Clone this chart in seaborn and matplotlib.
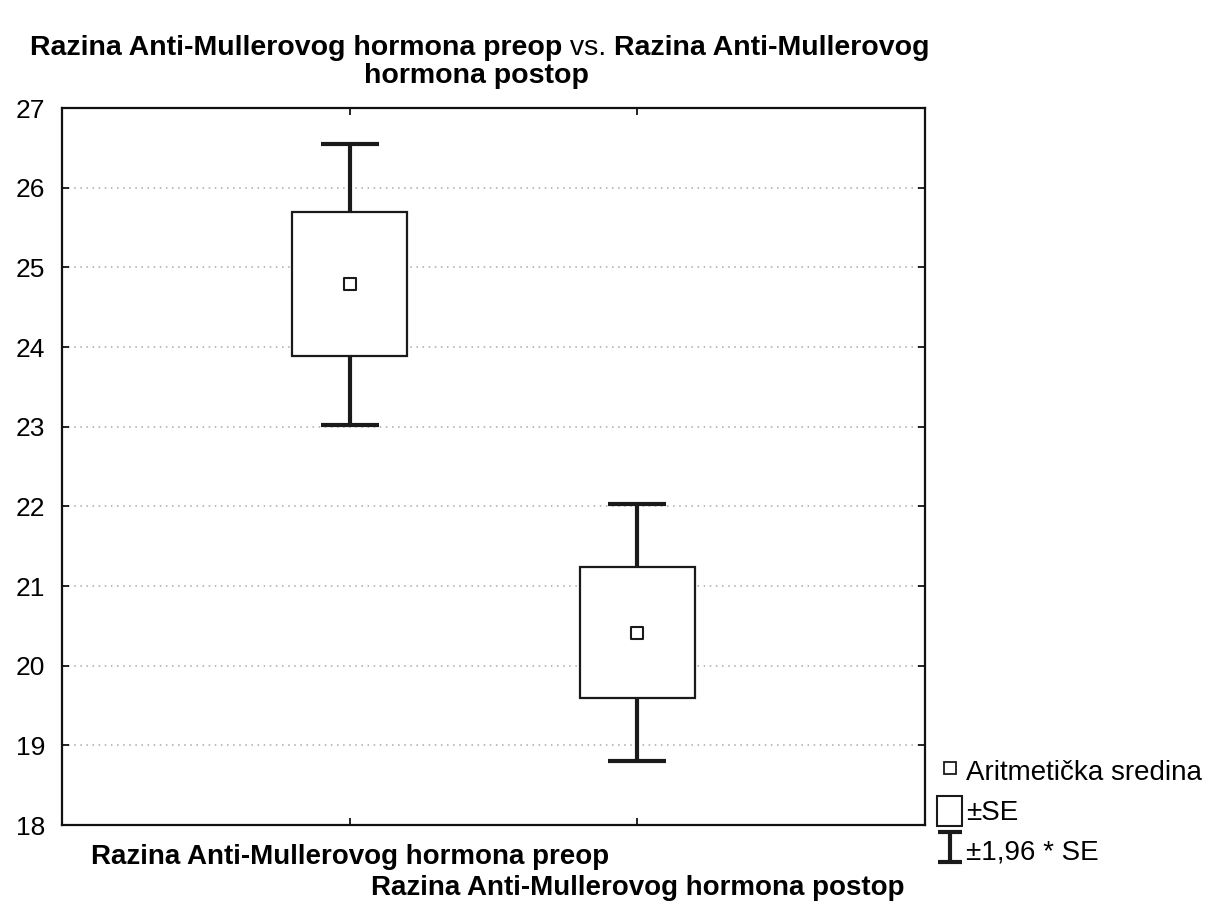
import matplotlib
matplotlib.use('Agg')
import matplotlib.pyplot as plt
import seaborn as sns
import numpy as np
from matplotlib.lines import Line2D
from matplotlib.patches import Patch
from matplotlib.path import Path

# data
groups = ['Razina Anti-Mullerovog hormona preop', 'Razina Anti-Mullerovog hormona postop']
means = [24.79, 20.415]
se = [0.90, 0.825]
yticks = [18, 19, 20, 21, 22, 23, 24, 25, 26, 27]

sns.set_style('white')
plt.rcParams['font.family'] = ['Liberation Sans', 'DejaVu Sans']
plt.rcParams['text.color'] = 'black'

pos = np.arange(1, len(groups) + 1)
means = np.array(means)
se = np.array(se)

fig = plt.figure(figsize=(12.14, 9.06), dpi=100)
W, H = 1214, 906
ax = fig.add_axes([62 / W, 1 - 825 / H, 863 / W, 717 / H])

# whiskers: +-1.96 * SE
ax.errorbar(pos, means, yerr=1.96 * se, fmt='none', ecolor='#1a1a1a',
            elinewidth=3, capsize=21, capthick=3, zorder=2)
# box: +-SE
ax.bar(pos, 2 * se, bottom=means - se, width=0.4, color='white',
       edgecolor='#1a1a1a', linewidth=1.6, zorder=3)
# mean
sns.scatterplot(x=pos, y=means, marker='s', s=80, color='white',
                edgecolor='#1a1a1a', linewidth=1.5, zorder=4, ax=ax)

ax.set_xlim(0, 3)
ax.set_ylim(18, 27)
ax.set_yticks(yticks)
# staggered category labels: first on a major tick, second on a minor tick
ax.set_xticks(pos[:1], labels=groups[:1], fontsize=20, fontweight='bold')
ax.set_xticks(pos[1:], labels=groups[1:], minor=True, fontsize=20,
              fontweight='bold')
ax.tick_params(axis='y', labelsize=19, direction='in', left=True, right=True,
               length=5, width=1.2, pad=12, colors='black')
ax.tick_params(axis='x', which='both', direction='in', top=True, bottom=True,
               length=5, width=1.2, colors='black')
ax.tick_params(axis='x', which='major', pad=14)
ax.tick_params(axis='x', which='minor', pad=36)
ax.yaxis.grid(True, linestyle=(0, (1, 3)), color='#a8a8a8', linewidth=1.1)
ax.xaxis.grid(False, which='both')
for sp in ax.spines.values():
    sp.set_color('#111111')
    sp.set_linewidth(1.6)

# title, mixed weight on the first line
ty = 1 - 55 / H
t1 = fig.text(30 / W, ty, 'Razina Anti-Mullerovog hormona preop',
              fontsize=20.5, fontweight='bold', va='baseline', ha='left')
t2 = fig.text(0, 0, ' vs. ', fontsize=20.5, va='baseline', ha='left')
t3 = fig.text(0, 0, 'Razina Anti-Mullerovog', fontsize=20.5,
              fontweight='bold', va='baseline', ha='left')
fig.canvas.draw()
r = fig.canvas.get_renderer()
b1 = t1.get_window_extent(r)
t2.set_position((b1.x1 / W, ty))
b2 = t2.get_window_extent(r)
t3.set_position((b2.x1 / W, ty))
fig.text(476 / W, 1 - 83 / H, 'hormona postop', fontsize=20.5,
         fontweight='bold', va='baseline', ha='center')

# legend
ibeam = Path([(-0.8, 1), (0.8, 1), (0, 1), (0, -1), (-0.8, -1), (0.8, -1)],
             [Path.MOVETO, Path.LINETO, Path.MOVETO, Path.LINETO,
              Path.MOVETO, Path.LINETO])
handles = [
    Line2D([], [], marker='s', ls='none', mfc='white', mec='#1a1a1a',
           mew=1.3, ms=8),
    Patch(facecolor='white', edgecolor='#1a1a1a', linewidth=1.5),
    Line2D([], [], marker=ibeam, ls='none', mfc='none', mec='#1a1a1a',
           mew=3, ms=22),
]
labels = ['Aritmetička sredina', '±SE', '±1,96 * SE']
fig.legend(handles, labels, loc='upper left',
           bbox_to_anchor=(937 / W, 1 - 756 / H), frameon=False,
           fontsize=20, handlelength=0.9, handleheight=1.3,
           handletextpad=0.15, labelspacing=0.33, borderaxespad=0,
           borderpad=0)

fig.savefig('out.png', dpi=100, facecolor='white')
